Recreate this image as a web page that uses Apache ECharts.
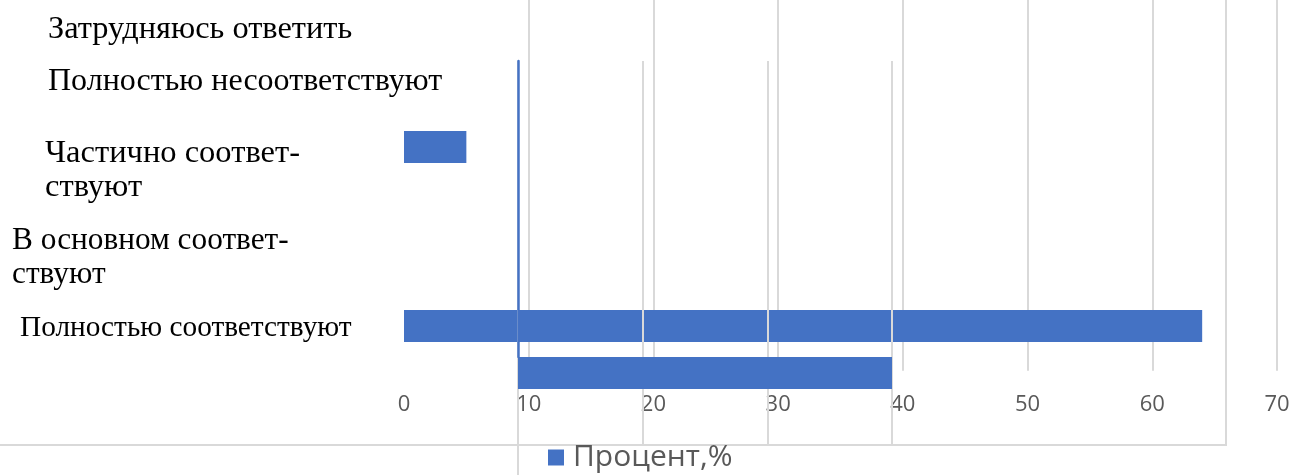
<!DOCTYPE html>
<html><head><meta charset="utf-8">
<script src="https://cdn.jsdelivr.net/npm/echarts@6/dist/echarts.min.js"></script>
<style>html,body{margin:0;padding:0;background:#fff}#c{width:1291px;height:475px}</style>
</head><body><div id="c"></div>
<script>
// ---- data ----
const categories = ['Затрудняюсь ответить', 'Полностью несоответствуют', 'Частично соответ-\nствуют', 'В основном соответ-\nствуют', 'Полностью соответствуют'];
const mainValues = [0, 0, 5, 0, 64];
const xTickMax = 70;
const xTickStep = 10;
const seriesName = 'Процент,%';
// overlaid (shifted) copy of the chart: 8 slots, one bar visible
const overlaySlots = ['o1', 'o2', 'o3', 'o4', 'o5', 'o6', 'o7', 'o8'];
const overlayValues = [null, null, null, null, null, null, 30, null];
const overlayMax = 30;

// ---- chart ----
const chart = echarts.init(document.getElementById('c'), null, {renderer: 'canvas'});
const grayLine = '#d9d9d9';
const blue = '#4472c4';
const hiddenAxis = (type, gi) => ({
  gridIndex: gi, type: type, show: true,
  axisLine: {show: false}, axisTick: {show: false}, axisLabel: {show: false}, splitLine: {show: false},
  min: 0, max: 1
});
const labelX = [48, 48, 45, 12, 20];
const labelY = [29, 82, 170, 258, 328];
const labelSize = [32.4, 32, 32.5, 31.3, 29.3];

const option = {
  animation: false,
  backgroundColor: '#fff',
  grid: [
    {left: 404, right: 14, top: -76.75, bottom: 104.25, outerBoundsMode: 'none'},
    {left: 518, top: 61, width: 374, bottom: 30, outerBoundsMode: 'none'},
    {left: 518, top: 61, width: 20, height: 296, outerBoundsMode: 'none'},
    {left: 518, top: 445, width: 20, bottom: 0, outerBoundsMode: 'none'},
    {left: -20, top: -20, right: 65, bottom: 30, outerBoundsMode: 'none', show: true, borderColor: grayLine, borderWidth: 2, backgroundColor: 'transparent', z: 1}
  ],
  xAxis: [
    {gridIndex: 0, type: 'value', min: 0, max: xTickMax, interval: xTickStep,
      axisLine: {show: false}, axisTick: {show: false},
      splitLine: {show: true, showMinLine: false, lineStyle: {color: grayLine, width: 2}},
      axisLabel: {fontSize: 22, color: '#595959', margin: 23, fontFamily: 'Open Sans'}},
    {gridIndex: 1, type: 'value', min: 0, max: overlayMax, interval: xTickStep, z: 3,
      axisLine: {show: false}, axisTick: {show: false}, axisLabel: {show: false},
      splitLine: {show: true, lineStyle: {color: grayLine, width: 2}}},
    hiddenAxis('value', 2),
    hiddenAxis('value', 3),
    hiddenAxis('value', 4)
  ],
  yAxis: [
    {gridIndex: 0, type: 'category', data: categories, inverse: true,
      axisLine: {show: false}, axisTick: {show: false}, axisLabel: {show: false}, splitLine: {show: false}},
    {gridIndex: 1, type: 'category', data: overlaySlots, inverse: true,
      axisLine: {show: false}, axisTick: {show: false}, axisLabel: {show: false}, splitLine: {show: false}},
    Object.assign(hiddenAxis('value', 2), {z: 6, axisLine: {show: true, onZero: false, lineStyle: {color: blue, width: 2.5}}}),
    Object.assign(hiddenAxis('value', 3), {z: 3, axisLine: {show: true, onZero: false, lineStyle: {color: grayLine, width: 2}}}),
    hiddenAxis('value', 4)
  ],
  legend: {
    data: [seriesName], left: 548, top: 442.5, padding: 0,
    icon: 'rect', itemWidth: 16, itemHeight: 16,
    textStyle: {fontSize: 30, color: '#595959', fontFamily: 'Open Sans', padding: [0, 0, 0, 4]}
  },
  series: [
    {name: seriesName, type: 'bar', xAxisIndex: 0, yAxisIndex: 0, data: mainValues,
      barWidth: 32, itemStyle: {color: blue}, z: 2},
    {name: seriesName, type: 'bar', xAxisIndex: 1, yAxisIndex: 1, data: overlayValues,
      barWidth: 32, itemStyle: {color: blue}, z: 4}
  ],
  graphic: categories.map((c, i) => ({
    type: 'text', z: 10,
    x: labelX[i], y: labelY[i],
    style: {text: c, font: labelSize[i] + 'px "Liberation Serif"', fill: '#000', verticalAlign: 'middle', lineHeight: 34}
  }))
};
chart.setOption(option);
</script>
</body></html>
